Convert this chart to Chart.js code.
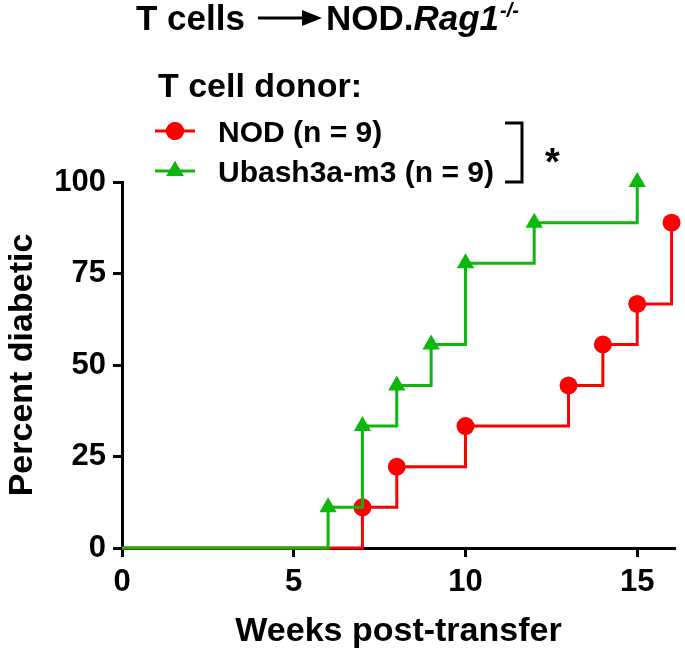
<!DOCTYPE html>
<html>
<head>
<meta charset="utf-8">
<script src="https://cdn.jsdelivr.net/npm/chart.js@4.4.1/dist/chart.umd.min.js"></script>
<style>
  body { margin: 0; background: #fff; }
  #wrap { width: 685px; height: 653px; }
</style>
</head>
<body>
<div id="wrap"><canvas id="chart" width="685" height="653"></canvas></div>
<script>
// weeks / percent diabetic
const weeksNOD = [0, 7, 8, 10, 13, 14, 15, 16];
const pctNOD = [0, 11.1, 22.2, 33.3, 44.4, 55.6, 66.7, 88.9];
const weeksUbash = [0, 6, 7, 8, 9, 10, 12, 15];
const pctUbash = [0, 11.1, 33.3, 44.4, 55.6, 77.8, 88.9, 100];

const xTicks = [0, 5, 10, 15];
const yTicks = [0, 25, 50, 75, 100];
const seriesNames = ['NOD (n = 9)', 'Ubash3a-m3 (n = 9)'];

const RED = '#ff0000';
const GREEN = '#0bb80b';
const FONT = "'Liberation Sans', Arial, sans-serif";

function toPoints(xs, ys) {
    return xs.map((x, i) => ({ x: x, y: ys[i] }));
}
// no marker on the starting point at week 0
function radii(xs, r) {
    return xs.map((x, i) => i === 0 ? 0 : r);
}

// title, legend, bracket and star
const decorations = {
    id: 'decorations',
    afterDraw(chart) {
        const ctx = chart.ctx;
        ctx.save();
        ctx.fillStyle = '#000';
        ctx.strokeStyle = '#000';
        ctx.textBaseline = 'alphabetic';
        ctx.textAlign = 'left';

        // main title
        ctx.font = 'bold 35px ' + FONT;
        ctx.fillText('T cells', 136, 30);
        ctx.lineWidth = 3;
        ctx.beginPath();
        ctx.moveTo(258, 18);
        ctx.lineTo(305, 18);
        ctx.stroke();
        ctx.beginPath();
        ctx.moveTo(322, 18);
        ctx.lineTo(302, 10);
        ctx.lineTo(302, 26);
        ctx.closePath();
        ctx.fill();
        ctx.fillText('NOD.', 326, 30);
        let x = 326 + ctx.measureText('NOD.').width;
        ctx.font = 'italic bold 35px ' + FONT;
        ctx.fillText('Rag1', x, 30);
        x += ctx.measureText('Rag1').width + 1;
        ctx.font = 'italic bold 20px ' + FONT;
        ctx.fillText('-/-', x, 17);

        // legend header
        ctx.font = 'bold 34px ' + FONT;
        ctx.fillText('T cell donor:', 158, 97);

        // legend rows
        const rows = [
            { y: 131, color: RED, style: 'circle', r: 9 },
            { y: 171, color: GREEN, style: 'triangle', r: 10 }
        ];
        rows.forEach((row, i) => {
            ctx.strokeStyle = row.color;
            ctx.fillStyle = row.color;
            ctx.lineWidth = 3;
            ctx.beginPath();
            ctx.moveTo(155, row.y);
            ctx.lineTo(195, row.y);
            ctx.stroke();
            Chart.helpers.drawPoint(ctx, { pointStyle: row.style, radius: row.r, borderWidth: 0 }, 175, row.y);
            ctx.fill();
            ctx.fillStyle = '#000';
            ctx.font = 'bold 30px ' + FONT;
            ctx.fillText(seriesNames[i], 218, row.y + 11);
        });

        // significance bracket
        ctx.strokeStyle = '#000';
        ctx.lineWidth = 3;
        ctx.beginPath();
        ctx.moveTo(505, 123);
        ctx.lineTo(522, 123);
        ctx.lineTo(522, 182);
        ctx.lineTo(505, 182);
        ctx.stroke();
        ctx.fillStyle = '#000';
        ctx.font = 'bold 38px ' + FONT;
        ctx.fillText('*', 545, 175);
        ctx.restore();
    }
};

const ctx = document.getElementById('chart').getContext('2d');
new Chart(ctx, {
    type: 'line',
    data: {
        datasets: [
            {
                label: seriesNames[1],
                data: toPoints(weeksUbash, pctUbash),
                borderColor: GREEN,
                backgroundColor: GREEN,
                borderWidth: 3,
                stepped: 'before',
                pointStyle: 'triangle',
                pointRadius: radii(weeksUbash, 10),
                pointBorderWidth: 0,
                pointBackgroundColor: GREEN,
                clip: false,
                order: 0
            },
            {
                label: seriesNames[0],
                data: toPoints(weeksNOD, pctNOD),
                borderColor: RED,
                backgroundColor: RED,
                borderWidth: 3,
                stepped: 'before',
                pointStyle: 'circle',
                pointRadius: radii(weeksNOD, 9),
                pointBorderWidth: 0,
                pointBackgroundColor: RED,
                clip: false,
                order: 1
            }
        ]
    },
    options: {
        responsive: false,
        animation: false,
        layout: { padding: { top: 182, right: 7, left: 4, bottom: 0 } },
        plugins: {
            legend: { display: false },
            tooltip: { enabled: false }
        },
        scales: {
            x: {
                type: 'linear',
                min: 0,
                max: 16.1,
                afterBuildTicks: axis => { axis.ticks = xTicks.map(v => ({ value: v })); },
                afterFit: axis => { axis.height = 653 - 548; },
                ticks: {
                    color: '#000',
                    padding: 7,
                    font: { family: FONT, size: 31, weight: 'bold' }
                },
                grid: {
                    drawOnChartArea: false,
                    drawTicks: true,
                    tickLength: 9,
                    tickWidth: 3,
                    tickColor: '#000'
                },
                border: { display: true, color: '#000', width: 3 },
                title: {
                    display: true,
                    text: 'Weeks post-transfer',
                    color: '#000',
                    padding: { top: 0, bottom: 3 },
                    font: { family: FONT, size: 34, weight: 'bold', lineHeight: 1.1 }
                }
            },
            y: {
                min: 0,
                max: 100,
                afterBuildTicks: axis => { axis.ticks = yTicks.map(v => ({ value: v })); },
                afterFit: axis => { axis.width = 122 - 4; },
                ticks: {
                    color: '#000',
                    padding: 7,
                    font: { family: FONT, size: 31, weight: 'bold' }
                },
                grid: {
                    drawOnChartArea: false,
                    drawTicks: true,
                    tickLength: 9,
                    tickWidth: 3,
                    tickColor: '#000'
                },
                border: { display: true, color: '#000', width: 3 },
                title: {
                    display: true,
                    text: 'Percent diabetic',
                    color: '#000',
                    padding: { top: 0, bottom: 0 },
                    font: { family: FONT, size: 34, weight: 'bold', lineHeight: 1.1 }
                }
            }
        }
    },
    plugins: [decorations]
});
</script>
</body>
</html>
